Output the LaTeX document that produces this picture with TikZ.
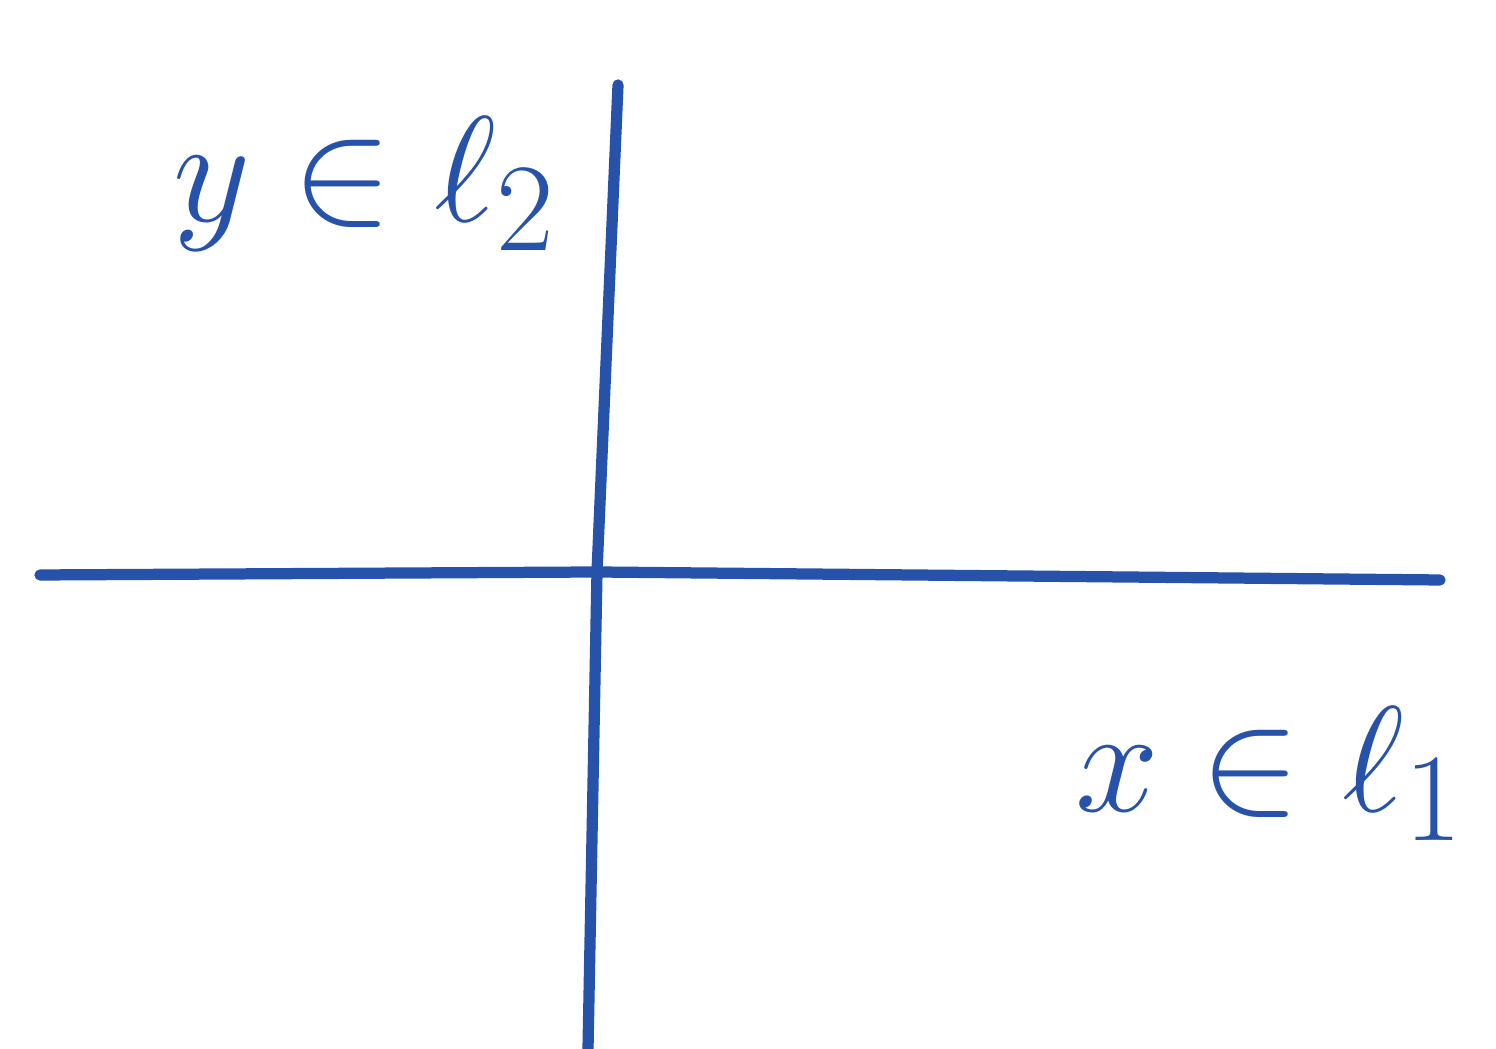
\documentclass[tikz,border=0pt]{standalone}
\usetikzlibrary{positioning}

\definecolor{penblue}{RGB}{38,82,170}

\begin{document}
\begin{tikzpicture}[
        font=\Huge,
        axis/.style={draw=penblue, line width=3.2pt, line cap=round},
        lbl/.style={text=penblue, inner sep=0pt, scale=1.72}
      ]
      % Page frame
      \useasboundingbox (0,0) rectangle (14.96, 10.49);

      % Ends of the axes
      \coordinate (o) at (5.97, 4.77);
      \coordinate (h_left) at (0.40, 4.74);
      \coordinate (h_right) at (14.40, 4.69);
      \coordinate (v_top) at (6.18, 9.64);
      \coordinate (v_bottom) at (5.88, 0.00);

      % Labels
      \node [lbl] (l_two) at (3.65, 8.65) {$y \in \ell_2$};
      \node [lbl] (l_one) at (12.70, 2.75) {$x \in \ell_1$};

      % Axes
      \path [axis] (h_left) -- (o) -- (h_right);
      \path [axis] (v_top) -- (o) -- (v_bottom);

    \end{tikzpicture}
\end{document}
